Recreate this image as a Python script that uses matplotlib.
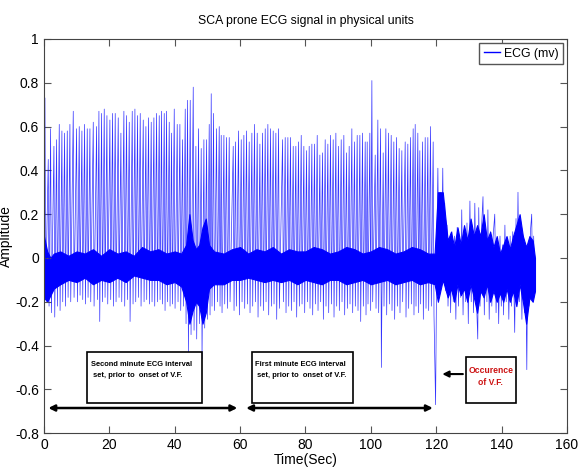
import numpy as np
import matplotlib
matplotlib.use("Agg")
from matplotlib import pyplot as plt
from matplotlib.patches import FancyArrowPatch, Rectangle

plt.rcParams['font.family'] = ['Liberation Sans', 'DejaVu Sans']

# beat positions (s), R-peak heights and following troughs (mV)
beat_time = [0.31, 1.32, 2.04, 3.06, 3.87, 4.69, 5.50, 6.32, 7.14, 7.95,
             8.97, 9.99, 10.80, 11.62, 12.44, 13.25, 14.07, 15.09, 16.11, 16.82,
             17.64, 18.45, 19.27, 20.18, 21.00, 21.81, 22.73, 23.55, 24.46, 25.28,
             26.10, 27.01, 27.83, 28.64, 29.46, 30.38, 31.19, 32.01, 32.82, 33.64,
             34.46, 35.27, 35.98, 36.80, 37.51, 38.33, 39.04, 39.86, 40.77, 41.59,
             42.41, 43.22, 43.94, 44.75, 45.67, 46.48, 47.30, 48.11, 48.93, 49.75,
             50.56, 51.17, 51.89, 52.80, 53.62, 54.23, 55.05, 55.86, 56.68, 57.90,
             58.61, 59.53, 60.35, 61.16, 61.98, 62.79, 63.61, 64.42, 65.24, 66.06,
             66.87, 67.69, 68.50, 69.32, 70.13, 70.95, 71.77,
             72.99, 73.80, 74.62, 75.43, 76.25, 77.06, 77.88, 78.70, 79.51, 80.33,
             81.14, 81.96, 82.77, 83.59, 84.40, 85.22, 86.03, 86.85, 87.67, 88.48,
             89.30, 90.11, 90.93, 91.74, 92.56, 93.37, 94.19, 95.00, 95.82, 96.64,
             97.45, 98.27, 98.88, 99.69, 100.31, 101.33, 102.14, 102.96, 103.77, 104.59,
             105.40, 106.22, 107.03, 107.85, 108.66, 109.48, 110.50, 111.31, 112.13, 112.94,
             113.56, 114.37, 114.98, 115.80, 116.62, 117.43, 118.25, 119.06]
beat_peak = [0.73, 0.45, 0.59, 0.51, 0.54, 0.61, 0.58, 0.57, 0.58, 0.61,
             0.67, 0.59, 0.60, 0.58, 0.61, 0.59, 0.59, 0.62, 0.60, 0.67,
             0.66, 0.68, 0.65, 0.63, 0.66, 0.66, 0.64, 0.57, 0.67, 0.65,
             0.62, 0.67, 0.68, 0.65, 0.66, 0.63, 0.60, 0.64, 0.62, 0.64,
             0.66, 0.65, 0.67, 0.66, 0.67, 0.62, 0.57, 0.68, 0.61, 0.61,
             0.54, 0.68, 0.72, 0.72, 0.78, 0.51, 0.59, 0.50, 0.54, 0.54,
             0.61, 0.75, 0.66, 0.59, 0.60, 0.56, 0.56, 0.55, 0.55, 0.51,
             0.53, 0.58, 0.54, 0.56, 0.58, 0.53, 0.57, 0.61, 0.57, 0.52,
             0.57, 0.59, 0.61, 0.59, 0.58, 0.57, 0.59,
             0.54, 0.55, 0.55, 0.55, 0.51, 0.51, 0.53, 0.56, 0.51, 0.49,
             0.51, 0.52, 0.52, 0.56, 0.47, 0.48, 0.54, 0.52, 0.56, 0.54,
             0.57, 0.51, 0.54, 0.56, 0.48, 0.51, 0.59, 0.53, 0.56, 0.56,
             0.57, 0.53, 0.53, 0.57, 0.81, 0.47, 0.63, 0.59, 0.48, 0.59,
             0.57, 0.56, 0.53, 0.55, 0.50, 0.49, 0.53, 0.52, 0.55, 0.59,
             0.61, 0.57, 0.49, 0.53, 0.55, 0.55, 0.60, 0.53]
beat_trough = [-0.15, -0.22, -0.25, -0.27, -0.22, -0.24, -0.20, -0.22, -0.18, -0.20,
               -0.18, -0.20, -0.17, -0.19, -0.21, -0.18, -0.20, -0.22, -0.19, -0.29,
               -0.20, -0.18, -0.21, -0.19, -0.22, -0.20, -0.18, -0.20, -0.22, -0.19,
               -0.29, -0.21, -0.20, -0.18, -0.22, -0.20, -0.19, -0.21, -0.20, -0.22,
               -0.20, -0.19, -0.21, -0.24, -0.20, -0.22, -0.21, -0.23, -0.20, -0.24,
               -0.22, -0.30, -0.43, -0.35, -0.33, -0.37, -0.30, -0.46, -0.32, -0.28,
               -0.26, -0.22, -0.24, -0.20, -0.22, -0.25, -0.21, -0.23, -0.20, -0.24,
               -0.22, -0.26, -0.20, -0.23, -0.21, -0.25, -0.22, -0.20, -0.27, -0.22,
               -0.24, -0.20, -0.26, -0.22, -0.21, -0.28, -0.23,
               -0.20, -0.25, -0.22, -0.24, -0.20, -0.27, -0.22, -0.21, -0.25, -0.20,
               -0.23, -0.26, -0.21, -0.24, -0.20, -0.28, -0.22, -0.25, -0.21, -0.27,
               -0.22, -0.24, -0.20, -0.26, -0.23, -0.21, -0.25, -0.22, -0.24, -0.29,
               -0.22, -0.26, -0.21, -0.24, -0.20, -0.23, -0.25, -0.50, -0.22, -0.26,
               -0.21, -0.24, -0.28, -0.22, -0.25, -0.20, -0.27, -0.23, -0.21, -0.26,
               -0.22, -0.25, -0.21, -0.28, -0.23, -0.24, -0.22, -0.26]

# ventricular fibrillation part (after ~120 s)
vf_time = [119.8, 120.2, 120.5, 120.8, 121.2, 121.5, 122.0, 122.3, 122.6, 122.9,
           123.3, 123.6, 124.0, 124.4, 124.8, 125.2, 125.6, 126.0, 126.4, 126.8,
           127.2, 127.5, 127.8, 128.2, 128.6, 129.0, 129.4, 129.8, 130.3, 130.7,
           131.0, 131.4, 131.8, 132.2, 132.7, 133.0, 133.4, 133.8, 134.3, 134.7,
           135.1, 135.5, 135.8, 136.2, 136.6, 137.0, 137.4, 137.9, 138.3, 138.7,
           139.1, 139.5, 139.9, 140.3, 140.6, 141.0, 141.4, 141.8, 142.2, 142.6,
           143.0, 143.4, 144.0, 144.4, 144.7, 145.0, 145.4, 145.8, 146.2, 146.6,
           147.0, 147.3, 147.7, 148.0, 148.4, 148.8, 149.2, 149.5, 149.8, 150.2]
vf_value = [-0.67, 0.10, 0.41, -0.05, 0.30, -0.10, 0.41, -0.08, 0.25, -0.15,
            0.15, -0.22, 0.08, -0.25, 0.12, -0.20, 0.10, -0.28, 0.14, -0.22,
            0.08, -0.18, 0.22, -0.26, 0.12, -0.20, 0.16, -0.30, 0.26, -0.20,
            0.10, -0.25, 0.25, -0.15, -0.37, 0.23, -0.22, 0.12, 0.28, -0.26,
            0.10, -0.20, 0.22, -0.28, 0.12, -0.22, 0.10, 0.20, -0.25, 0.08,
            -0.30, 0.10, -0.22, 0.06, -0.26, 0.15, -0.20, 0.08, -0.28, 0.10,
            -0.22, 0.12, -0.34, 0.18, -0.15, 0.30, -0.20, 0.15, -0.28, 0.10,
            -0.25, 0.05, -0.51, 0.02, -0.22, 0.12, 0.20, -0.18, 0.10, -0.16]

# dense baseline band (upper / lower envelope)
band_time = [0, 1, 2, 3, 5, 7.5, 10, 12.5, 15, 17.5, 20, 22.5, 25, 27.5, 30, 32.5,
             35, 37.5, 40, 42, 43.5, 44.5, 45.5, 46.5, 47.5, 48.5, 49.5, 50.5, 52,
             55, 57.5, 60, 62.5, 65, 67.5, 70, 72.5, 75, 77.5, 80, 82.5, 85, 87.5,
             90, 92.5, 95, 97.5, 100, 102.5, 105, 107.5, 110, 112.5, 115, 117.5, 119.5,
             120.5, 122, 123.5, 124.5, 125.5, 126.5, 127.5, 128.5, 129.5, 130.5, 131.5,
             132.5, 133.5, 134.5, 135.5, 136.5, 137.5, 138.5, 139.5, 140.5, 141.5,
             142.5, 143.5, 144.5, 145.5, 146.5, 147.5, 148.5, 149.5, 150.2]
band_high = [0.10, 0.03, 0.00, 0.02, 0.03, 0.01, 0.03, 0.02, 0.04, 0.01, 0.04, 0.02,
             0.03, 0.01, 0.05, 0.03, 0.04, 0.02, 0.03, 0.02, 0.06, 0.20, 0.08, 0.04,
             0.06, 0.14, 0.18, 0.06, 0.03,
             0.02, 0.04, 0.05, 0.02, 0.04, 0.03, 0.05, 0.02, 0.04, 0.03, 0.03, 0.05,
             0.04, 0.02, 0.03, 0.05, 0.04, 0.02, 0.03, 0.05, 0.04, 0.02, 0.03, 0.05,
             0.04, 0.02, 0.02,
             0.30, 0.30, 0.08, 0.12, 0.05, 0.14, 0.06, 0.15, 0.08, 0.18, 0.10, 0.15,
             0.10, 0.20, 0.08, 0.12, 0.05, 0.10, 0.02, 0.06, 0.10, 0.04, 0.10, 0.15,
             0.20, 0.10, 0.05, 0.10, 0.08, 0.00]
band_low = [-0.18, -0.20, -0.17, -0.14, -0.12, -0.10, -0.11, -0.09, -0.12, -0.10,
            -0.11, -0.09, -0.11, -0.08, -0.09, -0.10, -0.10, -0.12, -0.11, -0.13,
            -0.20, -0.30, -0.24, -0.20, -0.22, -0.30, -0.25, -0.14, -0.12,
            -0.12, -0.10, -0.10, -0.09, -0.10, -0.11, -0.10, -0.11, -0.10, -0.12,
            -0.10, -0.11, -0.12, -0.10, -0.10, -0.12, -0.11, -0.10, -0.12, -0.11,
            -0.10, -0.12, -0.11, -0.10, -0.12, -0.11, -0.12,
            -0.20, -0.10, -0.18, -0.14, -0.20, -0.12, -0.17, -0.14, -0.20, -0.12,
            -0.18, -0.25, -0.15, -0.18, -0.12, -0.20, -0.15, -0.20, -0.16, -0.20,
            -0.14, -0.20, -0.15, -0.22, -0.12, -0.20, -0.30, -0.18, -0.20, -0.15]

blue = (0, 0, 1)

fig = plt.figure(figsize=(5.78, 4.75), dpi=100)
ax = fig.add_axes([0.076, 0.088, 0.905, 0.83])

# R peak then trough, one after another
bt = np.array(beat_time)
sig_t = np.column_stack([bt, bt + 0.25]).ravel()
sig_v = np.column_stack([beat_peak, beat_trough]).ravel()
sig_t = np.concatenate([sig_t, vf_time])
sig_v = np.concatenate([sig_v, vf_value])

ax.fill_between(band_time, band_low, band_high, color=blue, lw=0.8)
ax.plot(sig_t, sig_v, color=blue, alpha=0.8, lw=0.5, label="ECG (mv)")

ax.set_xlim(0, 160)
ax.set_ylim(-0.8, 1)
ax.set_xticks(np.arange(0, 161, 20))
ax.set_yticks(np.arange(-0.8, 1.01, 0.2))
ax.set_yticklabels(["-0.8", "-0.6", "-0.4", "-0.2", "0", "0.2", "0.4", "0.6", "0.8", "1"])
ax.tick_params(direction="in", top=True, right=True, length=5, labelsize=10, color="#555555")
for s in ax.spines.values():
    s.set_color("#444444")

ax.set_title("SCA prone ECG signal in physical units", fontsize=8.8, pad=11)
ax.set_xlabel("Time(Sec)", fontsize=10, labelpad=1)
ax.set_ylabel("Amplitude", fontsize=10)
ax.yaxis.set_label_coords(-0.06, 0.5)

leg = ax.legend(loc="upper right", fontsize=8.8, handlelength=1.3, handletextpad=0.3,
                borderaxespad=0.3, borderpad=0.4, fancybox=False, framealpha=1)
leg.get_frame().set_edgecolor("#555555")
for h in leg.legend_handles:
    h.set_alpha(1)
    h.set_linewidth(1.0)

# interval boxes and arrows
for x0, x1, y0, y1 in [(13.1, 48.3, -0.66, -0.43), (63.6, 94.5, -0.66, -0.43),
                       (129.0, 144.3, -0.66, -0.45)]:
    ax.add_patch(Rectangle((x0, y0), x1 - x0, y1 - y0, fc="white", ec="black", lw=1.2, zorder=3))
ax.text(14.3, -0.51, "Second minute ECG interval\n set, prior to  onset of V.F.",
        fontsize=5.4, fontweight="bold", va="center", ha="left", linespacing=1.8, zorder=4)
ax.text(64.6, -0.51, "First minute ECG interval\n set, prior to  onset of V.F.",
        fontsize=5.4, fontweight="bold", va="center", ha="left", linespacing=1.8, zorder=4)
ax.text(136.65, -0.54, "Occurence\nof V.F.", fontsize=6.2, fontweight="bold", color="#cc1111",
        va="center", ha="center", linespacing=1.5, zorder=4)

for x0, x1 in [(0.5, 60.0), (61.0, 119.8)]:
    ax.add_patch(FancyArrowPatch((x0, -0.685), (x1, -0.685), arrowstyle="<|-|>",
                                 mutation_scale=9, lw=1.8, color="black", zorder=4))
ax.add_patch(FancyArrowPatch((129.0, -0.53), (121.0, -0.53), arrowstyle="-|>",
                             mutation_scale=9, lw=1.5, color="black", zorder=4))

fig.savefig("out.png", dpi=100)
